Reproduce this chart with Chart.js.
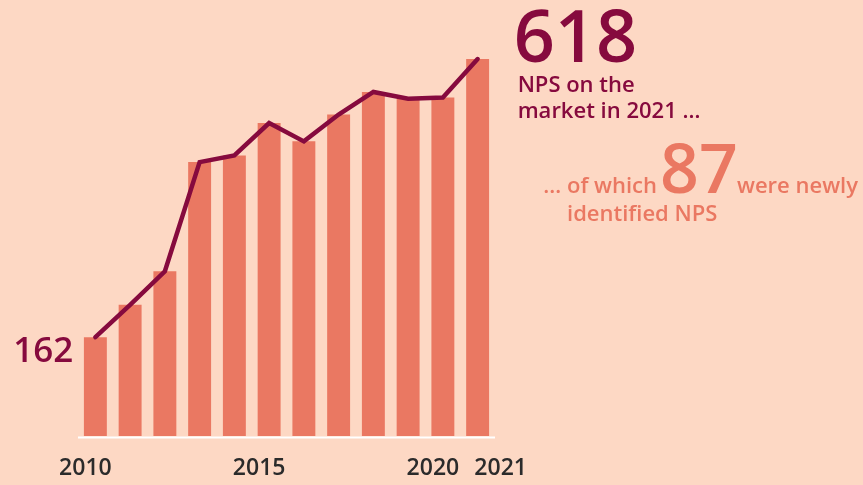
<!DOCTYPE html>
<html lang="en">
<head>
  <meta charset="UTF-8">
  <title>NPS on the market</title>
  <script src="https://cdn.jsdelivr.net/npm/chart.js@4/dist/chart.umd.min.js"></script>
  <style>
    html, body { margin: 0; padding: 0; background: #fdd8c4; }
    #wrap { position: relative; width: 863px; height: 485px; }
  </style>
</head>
<body>
  <div id="wrap"><canvas id="npsChart"></canvas></div>
  <script>
    // NPS monitored on the market per year
    const years = ['2010', '2011', '2012', '2013', '2014', '2015', '2016', '2017', '2018', '2019', '2020', '2021'];
    const npsOnMarket = [162, 215, 270, 449, 460, 513, 483, 527, 564, 553, 555, 618];
    const newlyIdentified = [87];
    const yearLabels = ['2010', '2015', '2020', '2021'];

    const maroon = '#860a3e';
    const salmon = '#ea7862';
    const font = '"Open Sans", "Noto Sans", sans-serif';

    // baseline, year labels and the text around the chart
    const decorations = {
      id: 'decorations',
      afterDraw(chart) {
        const { ctx, chartArea, scales } = chart;
        const x = scales.x, y = scales.y;
        ctx.save();

        ctx.strokeStyle = '#ffffff';
        ctx.lineWidth = 2;
        ctx.beginPath();
        ctx.moveTo(chartArea.left, chartArea.bottom + 1.5);
        ctx.lineTo(chartArea.right, chartArea.bottom + 1.5);
        ctx.stroke();

        ctx.fillStyle = '#2b2b2b';
        ctx.font = '600 23px ' + font;
        ctx.textAlign = 'center';
        ctx.textBaseline = 'alphabetic';
        yearLabels.forEach(label => {
          const i = years.indexOf(label);
          const shift = label === '2021' ? 23 : -10;
          ctx.fillText(label, x.getPixelForValue(i) + shift, 475);
        });

        const first = npsOnMarket[0];
        const last = npsOnMarket[npsOnMarket.length - 1];
        const x0 = x.getPixelForValue(0);
        const y0 = y.getPixelForValue(first);
        const xN = x.getPixelForValue(years.length - 1);
        const yN = y.getPixelForValue(last);

        ctx.fillStyle = maroon;
        ctx.font = '600 35px ' + font;
        ctx.textAlign = 'right';
        ctx.fillText(String(first), x0 - 22, y0 + 25);

        ctx.textAlign = 'left';
        ctx.font = '600 72px ' + font;
        ctx.fillText(String(last), xN + 36, yN + 3);
        ctx.font = '600 22px ' + font;
        ctx.fillText('NPS on the', xN + 40, 92);
        ctx.fillText('market in 2021 …', xN + 40, 118);

        ctx.fillStyle = salmon;
        ctx.font = '600 22px ' + font;
        ctx.textAlign = 'right';
        ctx.fillText('… of which', 657, 193);
        ctx.textAlign = 'left';
        ctx.font = '600 68px ' + font;
        ctx.fillText(String(newlyIdentified[0]), 660, 193);
        ctx.font = '600 22px ' + font;
        ctx.fillText('were newly', 737, 193);
        ctx.fillText('identified NPS', 567, 221);

        ctx.restore();
      }
    };

    new Chart(document.getElementById('npsChart'), {
      data: {
        labels: years,
        datasets: [
          {
            type: 'line',
            data: npsOnMarket,
            borderColor: maroon,
            borderWidth: 4.5,
            borderCapStyle: 'round',
            pointRadius: 0,
            tension: 0,
            order: 0
          },
          {
            type: 'bar',
            data: npsOnMarket,
            backgroundColor: salmon,
            categoryPercentage: 1,
            barPercentage: 0.66,
            order: 1
          }
        ]
      },
      options: {
        responsive: true,
        maintainAspectRatio: false,
        animation: false,
        layout: { padding: { left: 78, right: 368, top: 9, bottom: 49 } },
        plugins: { legend: { display: false }, tooltip: { enabled: false } },
        scales: {
          x: { display: false, offset: true },
          y: { display: false, min: 0, max: 700 }
        }
      },
      plugins: [decorations]
    });
  </script>
</body>
</html>
